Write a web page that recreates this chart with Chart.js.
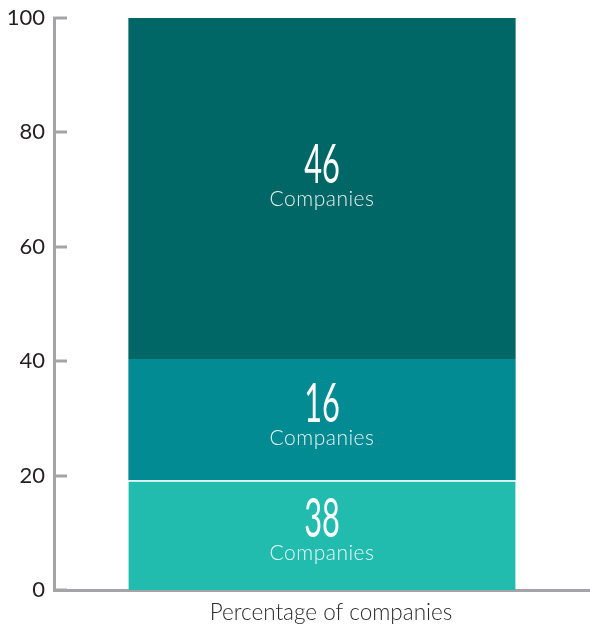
<!DOCTYPE html>
<html>
<head>
<meta charset="utf-8">
<script src="https://cdn.jsdelivr.net/npm/chart.js@4/dist/chart.umd.min.js"></script>
<style>
  html, body { margin: 0; padding: 0; background: #ffffff; }
  #wrap { width: 590px; height: 624px; position: relative; }
</style>
</head>
<body>
<div id="wrap"><canvas id="c" width="590" height="624"></canvas></div>
<script>
const categories = ["Percentage of companies"];
const segmentNames = ["Group A", "Group B", "Group C"];
const segmentValues = [19.2, 21.2, 59.6];      // percentage height of each stacked segment (bottom to top)
const companyCounts = [38, 16, 46];            // number shown in each segment
const segmentColors = ["#22bcae", "#028b93", "#006766"];
const yTicks = [0, 20, 40, 60, 80, 100];
const countCaption = "Companies";

const AXIS_GRAY = "#a4a4a8";

const inwardTicks = {
  id: "inwardTicks",
  afterDraw(chart) {
    const { ctx, chartArea, scales } = chart;
    ctx.save();
    ctx.strokeStyle = AXIS_GRAY;
    ctx.lineWidth = 3;
    yTicks.forEach(v => {
      const y = Math.round(scales.y.getPixelForValue(v));
      ctx.beginPath();
      ctx.moveTo(chartArea.left - 1, y);
      ctx.lineTo(chartArea.left + 13, y);
      ctx.stroke();
    });
    ctx.restore();
  }
};

const segmentLabels = {
  id: "segmentLabels",
  afterDatasetsDraw(chart, args, opts) {
    const { ctx } = chart;
    ctx.save();
    chart.data.datasets.forEach((ds, i) => {
      const meta = chart.getDatasetMeta(i);
      const bar = meta.data[0];
      if (!bar) return;
      const cx = bar.x;
      const cy = (bar.y + bar.base) / 2 + (opts.shift[i] || 0);
      // big condensed number
      ctx.save();
      ctx.fillStyle = "#ffffff";
      ctx.textAlign = "center";
      ctx.textBaseline = "alphabetic";
      ctx.font = "400 55px Lato, 'Open Sans', sans-serif";
      ctx.translate(cx, cy + 2);
      ctx.scale(0.56, 1);
      ctx.fillText(String(companyCounts[i]), 0, 0);
      ctx.restore();
      // caption
      ctx.save();
      ctx.fillStyle = "rgba(255,255,255,0.9)";
      ctx.textAlign = "center";
      ctx.textBaseline = "alphabetic";
      ctx.font = "300 21px Lato, 'Open Sans', sans-serif";
      try { ctx.letterSpacing = "0.5px"; } catch (e) {}
      ctx.fillText(countCaption, cx, cy + 25);
      ctx.restore();
    });
    ctx.restore();
  }
};

const datasets = segmentValues.map((v, i) => ({
  label: segmentNames[i],
  data: [v],
  backgroundColor: segmentColors[i],
  borderColor: "#ffffff",
  borderWidth: i === 0 ? { top: 1.5, left: 0, right: 0, bottom: 0 } : 0,
  borderSkipped: false,
  categoryPercentage: 1.0,
  barPercentage: 0.7225
}));

new Chart(document.getElementById("c"), {
  type: "bar",
  data: { labels: categories, datasets },
  options: {
    responsive: false,
    animation: false,
    layout: { padding: { top: 18, right: 0, left: 0, bottom: 0 } },
    plugins: {
      legend: { display: false },
      tooltip: { enabled: false },
      segmentLabels: { shift: [0, 0, -7] }
    },
    scales: {
      x: {
        stacked: true,
        offset: true,
        grid: { display: false, drawTicks: false },
        border: { display: true, color: AXIS_GRAY, width: 3 },
        ticks: {
          color: "#2b2b2b",
          font: { family: "Lato, 'Open Sans', sans-serif", size: 22.5, weight: 300 },
          padding: 9,
          labelOffset: 9
        },
        afterFit(scale) { scale.height = 34; scale.paddingLeft = 0; scale.paddingRight = 0; }
      },
      y: {
        stacked: true,
        min: 0,
        max: 100,
        afterBuildTicks(scale) { scale.ticks = yTicks.map(v => ({ value: v })); },
        grid: { display: false, drawTicks: false },
        border: { display: true, color: AXIS_GRAY, width: 3 },
        ticks: {
          color: "#231f20",
          font: { family: "Lato, 'Open Sans', sans-serif", size: 22 },
          padding: 9
        },
        afterFit(scale) { scale.width = 54; scale.paddingTop = 0; scale.paddingBottom = 0; }
      }
    }
  },
  plugins: [inwardTicks, segmentLabels]
});
</script>
</body>
</html>
